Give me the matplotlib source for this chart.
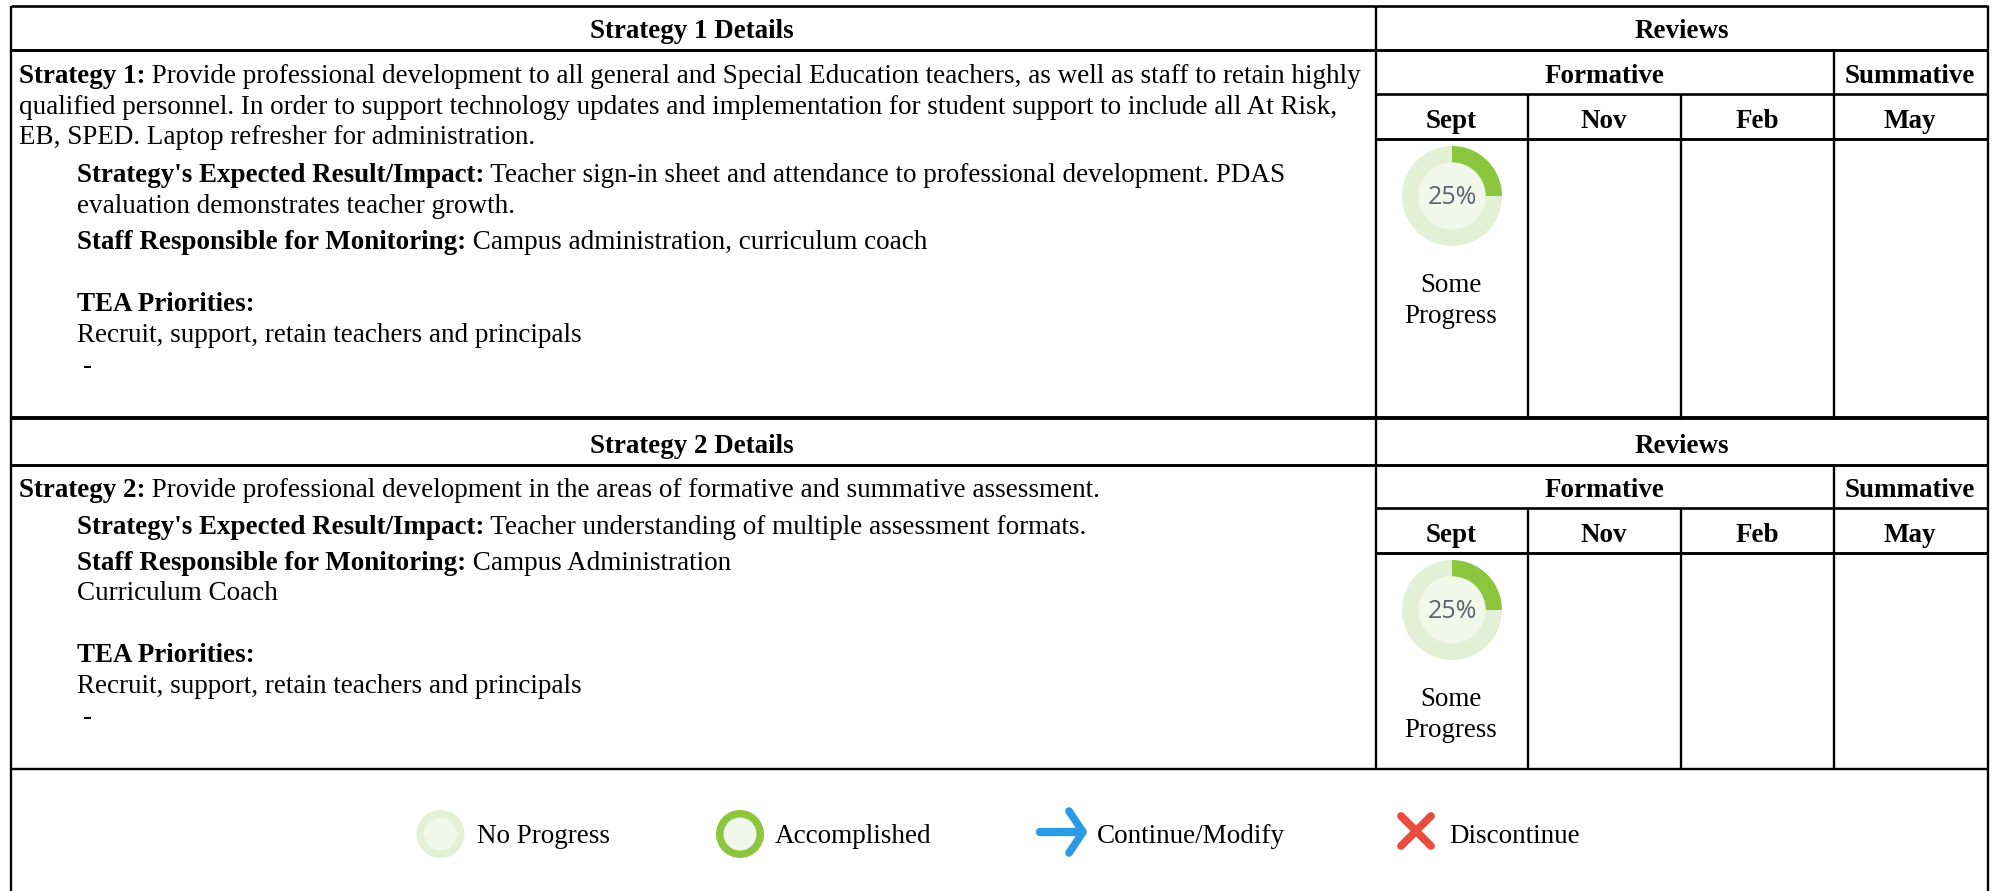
import matplotlib
matplotlib.use("Agg")
import matplotlib.pyplot as plt
from matplotlib.patches import Circle

plt.rcParams['font.family'] = ['Liberation Serif', 'DejaVu Serif']

W, H = 1997, 891
FS = 19.45
FS_REG = 19.55

# table text
months = ["Sept", "Nov", "Feb", "May"]
review_title = "Reviews"
formative = "Formative"
summative = "Summative"
status_value = [25, 75]
status_label = ["Some", "Progress"]
legend_labels = ["No Progress", "Accomplished", "Continue/Modify", "Discontinue"]

# (bold part, normal part, x, baseline y)
strategy1 = [
    ("Strategy 1:", " Provide professional development to all general and Special Education teachers, as well as staff to retain highly", 19, 83),
    ("", "qualified personnel. In order to support technology updates and implementation for student support to include all At Risk,", 19, 114),
    ("", "EB, SPED. Laptop refresher for administration.", 19, 144),
    ("Strategy's Expected Result/Impact:", " Teacher sign-in sheet and attendance to professional development. PDAS", 77, 182),
    ("", "evaluation demonstrates teacher growth.", 77, 213),
    ("Staff Responsible for Monitoring:", " Campus administration, curriculum coach", 77, 249),
    ("TEA Priorities:", "", 77, 311),
    ("", "Recruit, support, retain teachers and principals", 77, 342),
    ("", "-", 83, 373),
]
strategy2 = [
    ("Strategy 2:", " Provide professional development in the areas of formative and summative assessment.", 19, 497),
    ("Strategy's Expected Result/Impact:", " Teacher understanding of multiple assessment formats.", 77, 534),
    ("Staff Responsible for Monitoring:", " Campus Administration", 77, 570),
    ("", "Curriculum Coach", 77, 600),
    ("TEA Priorities:", "", 77, 662),
    ("", "Recruit, support, retain teachers and principals", 77, 693),
    ("", "-", 83, 724),
]

fig = plt.figure(figsize=(W / 100, H / 100), dpi=100)
ax = fig.add_axes([0, 0, 1, 1])
ax.set_xlim(0, W)
ax.set_ylim(H, 0)
ax.axis("off")


def rule(x0, y0, x1, y1, lw=1.7):
    ax.plot([x0, x1], [y0, y1], color="black", lw=lw, solid_capstyle="butt", zorder=3)


def rich_line(bold, normal, x, y):
    if bold:
        t = ax.text(x, y, bold, fontsize=FS, fontweight="bold", va="baseline")
        x += t.get_window_extent(fig.canvas.get_renderer()).width
    if normal:
        ax.text(x, y, normal, fontsize=FS_REG, va="baseline")


def center(x, y, s, **kw):
    ax.text(x, y, s, fontsize=FS, ha="center", va="baseline", **kw)


def donut(cx, cy):
    r = 50
    sub = fig.add_axes([(cx - r) / W, 1 - (cy + r) / H, 2 * r / W, 2 * r / H])
    sub.pie(status_value, colors=["#8cc63f", "#e2f0d6"], startangle=90, counterclock=False,
            radius=1, wedgeprops=dict(width=0.34))
    sub.add_patch(Circle((0, 0), 0.66, color="#f1f8ea"))
    sub.set_xlim(-1, 1)
    sub.set_ylim(-1, 1)
    sub.text(0, -0.02, "25%", fontsize=18, family="Open Sans", color="#5b6470",
             ha="center", va="center")


def block(top, details_title, lines, y_form, y_month, y_body, y_bottom):
    rule(11, top, 11, y_bottom)
    rule(1988, top, 1988, y_bottom)
    rule(1376, top, 1376, y_bottom)
    rule(11, y_form, 1988, y_form, 2.1)
    rule(1376, y_month, 1988, y_month, 1.9)
    rule(1376, y_body, 1988, y_body, 2.1)
    rule(1834, y_form, 1834, y_bottom)
    rule(1528.5, y_month, 1528.5, y_bottom)
    rule(1681, y_month, 1681, y_bottom)
    center(692, y_form - 12, details_title, fontweight="bold")
    center(1682, y_form - 12, review_title, fontweight="bold")
    center(1604, y_month - 11, formative, fontweight="bold")
    center(1910, y_month - 11, summative, fontweight="bold")
    xs = [1451, 1604, 1757, 1910]
    for m, x in zip(months, xs):
        center(x, y_body - 11, m, fontweight="bold")
    for bold, normal, x, y in lines:
        rich_line(bold, normal, x, y)
    donut(1452, y_body + 57)
    center(1451, y_body + 153, status_label[0])
    center(1451, y_body + 184, status_label[1])


block(6, "Strategy 1 Details", strategy1, 50, 94, 139, 418)
block(418, "Strategy 2 Details", strategy2, 465, 508, 553, 769)

rule(11, 6, 1988, 6, 1.9)
rule(11, 418, 1988, 418, 2.8)
rule(11, 769, 1988, 769, 1.7)
rule(11, 769, 11, H)
rule(1988, 769, 1988, H)

# legend icons
ax.add_patch(Circle((440.5, 834), 24, fc="#e2f0d6", ec="none"))
ax.add_patch(Circle((440.5, 834), 16.5, fc="#f1f8ea", ec="none"))
ax.add_patch(Circle((740, 834), 24, fc="#8cc63f", ec="none"))
ax.add_patch(Circle((740, 834), 16.5, fc="#f1f8ea", ec="none"))

ax.plot([1040, 1080], [832, 832], color="#2a9ae6", lw=6, solid_capstyle="round")
ax.plot([1069, 1083, 1069], [811, 832, 853], color="#2a9ae6", lw=5.5,
        solid_capstyle="round", solid_joinstyle="round")
ax.plot([1401, 1431], [816, 846], color="#e74c3c", lw=5.6, solid_capstyle="round")
ax.plot([1401, 1431], [846, 816], color="#e74c3c", lw=5.6, solid_capstyle="round")

for label, x in zip(legend_labels, [477, 775, 1097, 1449]):
    ax.text(x, 843, label, fontsize=FS_REG, va="baseline")

fig.savefig("out.png", dpi=100, facecolor="white")
